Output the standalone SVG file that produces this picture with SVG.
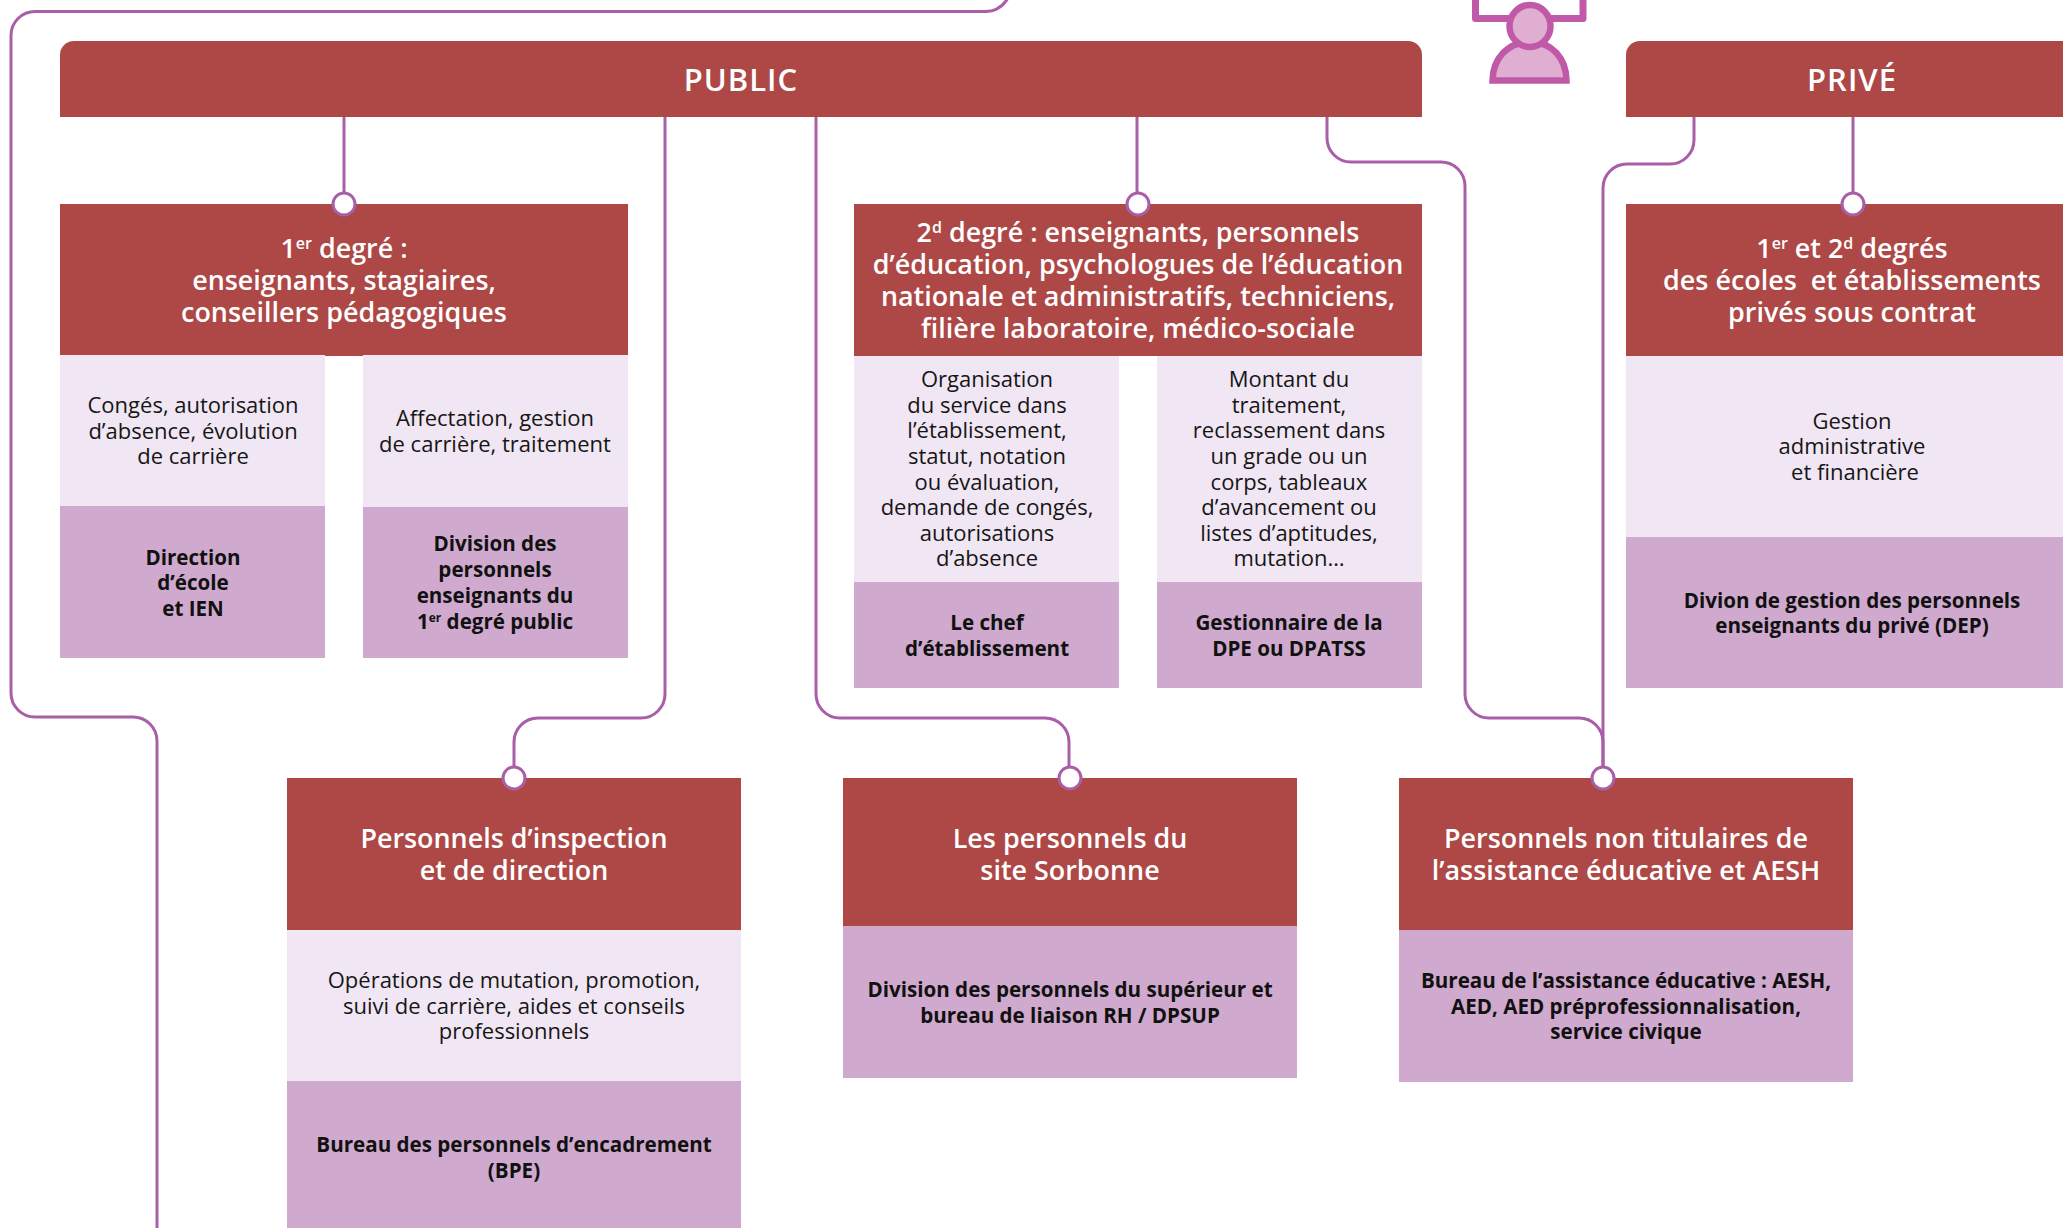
<svg xmlns="http://www.w3.org/2000/svg" width="2063" height="1228" viewBox="0 0 2063 1228">
<style>
text{font-family:"Open Sans","Noto Sans","Liberation Sans",sans-serif;text-anchor:middle}
.r{fill:#ad4846}.l{fill:#f1e6f3}.d{fill:#d0a9ce}
.h{fill:#fff;font-size:26.9px;font-weight:600}
.t{fill:#fff;font-size:31px;font-weight:600;letter-spacing:1px}
.b{fill:#161616;font-size:22px;font-weight:400}
.s{fill:#111;font-size:20.6px;font-weight:700}
.c{fill:none;stroke:#a95ea8;stroke-width:3}
.p{fill:#fff;stroke:#a95ea8;stroke-width:3}
.u{font-size:16px}
.i{fill:#e0aed0;stroke:#c05aa8;stroke-width:6.5}
</style>
<rect width="2063" height="1228" fill="#fff"/>
<g id="connectors">
<path class="c" d="M1008,-2Q1000,11.5 985,11.5H35A24,24 0 0 0 11,35.500V693A24,24 0 0 0 35,717H133A24,24 0 0 1 157,741V1228"/>
<path class="c" d="M344,117V192"/>
<path class="c" d="M665,117V694A24,24 0 0 1 641,718H538A24,24 0 0 0 514,742V766"/>
<path class="c" d="M816,117V694A24,24 0 0 0 840,718H1045A24,24 0 0 1 1069,742V766"/>
<path class="c" d="M1137,117V192"/>
<path class="c" d="M1327,117V138A24,24 0 0 0 1351,162H1441A24,24 0 0 1 1465,186V694A24,24 0 0 0 1489,718H1579A24,24 0 0 1 1603,742V766"/>
<path class="c" d="M1694,117V140A24,24 0 0 1 1670,164H1627A24,24 0 0 0 1603,188V766"/>
<path class="c" d="M1853,117V192"/>
</g>
<g id="icon-person">
<path d="M1475.500,-4V18.500H1583V-4" fill="none" stroke="#c05aa8" stroke-width="7" stroke-linejoin="round"/>
<path class="i" d="M1492.500,80.500C1493,58 1508,42 1530,42C1552,42 1566,58 1566.500,80.500Z"/>
<ellipse class="i" cx="1530" cy="26" rx="20.500" ry="21"/>
</g>
<g id="node-public">
<path class="r" d="M60,117V55A14,14 0 0 1 74,41H1408A14,14 0 0 1 1422,55V117Z"/>
<text class="t" x="741" y="91">PUBLIC</text>
</g>
<g id="node-prive">
<path class="r" d="M1626,117V55A14,14 0 0 1 1640,41H2063V117Z"/>
<text class="t" x="1852" y="91">PRIVÉ</text>
</g>
<g id="node-premier-degre">
<rect class="r" x="60" y="204" width="568" height="152"/>
<text class="h" x="344" y="258">1<tspan class="u" dy="-9">er</tspan><tspan dy="9"> degré :</tspan></text>
<text class="h" x="344" y="290">enseignants, stagiaires,</text>
<text class="h" x="344" y="322">conseillers pédagogiques</text>
<rect class="l" x="60" y="355" width="265" height="151"/>
<text class="b" x="193" y="413">Congés, autorisation</text>
<text class="b" x="193" y="439">d’absence, évolution</text>
<text class="b" x="193" y="464">de carrière</text>
<rect class="d" x="60" y="506" width="265" height="152"/>
<text class="s" x="193" y="565">Direction</text>
<text class="s" x="193" y="590">d’école</text>
<text class="s" x="193" y="616">et IEN</text>
<rect class="l" x="363" y="355" width="265" height="152"/>
<text class="b" x="495" y="426">Affectation, gestion</text>
<text class="b" x="495" y="452">de carrière, traitement</text>
<rect class="d" x="363" y="507" width="265" height="151"/>
<text class="s" x="495" y="551">Division des</text>
<text class="s" x="495" y="577">personnels</text>
<text class="s" x="495" y="603">enseignants du</text>
<text class="s" x="495" y="629">1<tspan font-size="12" dy="-7">er</tspan><tspan dy="7"> degré public</tspan></text>
</g>
<g id="node-second-degre">
<rect class="r" x="854" y="204" width="568" height="152"/>
<text class="h" x="1138" y="242">2<tspan class="u" dy="-9">d</tspan><tspan dy="9"> degré : enseignants, personnels</tspan></text>
<text class="h" x="1138" y="274">d’éducation, psychologues de l’éducation</text>
<text class="h" x="1138" y="306">nationale et administratifs, techniciens,</text>
<text class="h" x="1138" y="338">filière laboratoire, médico-sociale</text>
<rect class="l" x="854" y="356" width="265" height="226"/>
<text class="b" x="987" y="387">Organisation</text>
<text class="b" x="987" y="413">du service dans</text>
<text class="b" x="987" y="438">l’établissement,</text>
<text class="b" x="987" y="464">statut, notation</text>
<text class="b" x="987" y="490">ou évaluation,</text>
<text class="b" x="987" y="515">demande de congés,</text>
<text class="b" x="987" y="541">autorisations</text>
<text class="b" x="987" y="566">d’absence</text>
<rect class="d" x="854" y="582" width="265" height="106"/>
<text class="s" x="987" y="630">Le chef</text>
<text class="s" x="987" y="656">d’établissement</text>
<rect class="l" x="1157" y="356" width="265" height="226"/>
<text class="b" x="1289" y="387">Montant du</text>
<text class="b" x="1289" y="413">traitement,</text>
<text class="b" x="1289" y="438">reclassement dans</text>
<text class="b" x="1289" y="464">un grade ou un</text>
<text class="b" x="1289" y="490">corps, tableaux</text>
<text class="b" x="1289" y="515">d’avancement ou</text>
<text class="b" x="1289" y="541">listes d’aptitudes,</text>
<text class="b" x="1289" y="566">mutation…</text>
<rect class="d" x="1157" y="582" width="265" height="106"/>
<text class="s" x="1289" y="630">Gestionnaire de la</text>
<text class="s" x="1289" y="656">DPE ou DPATSS</text>
</g>
<g id="node-prive-degres">
<rect class="r" x="1626" y="204" width="437" height="152"/>
<text class="h" x="1852" y="258">1<tspan class="u" dy="-9">er</tspan><tspan dy="9"> et 2</tspan><tspan class="u" dy="-9">d</tspan><tspan dy="9"> degrés</tspan></text>
<text class="h" x="1852" y="290" xml:space="preserve">des écoles  et établissements</text>
<text class="h" x="1852" y="322">privés sous contrat</text>
<rect class="l" x="1626" y="356" width="437" height="181"/>
<text class="b" x="1852" y="429">Gestion</text>
<text class="b" x="1852" y="454">administrative</text>
<text class="b" x="1855" y="480">et financière</text>
<rect class="d" x="1626" y="537" width="437" height="151"/>
<text class="s" x="1852" y="608">Divion de gestion des personnels</text>
<text class="s" x="1852" y="633">enseignants du privé (DEP)</text>
</g>
<g id="node-inspection">
<rect class="r" x="287" y="778" width="454" height="152"/>
<text class="h" x="514" y="848">Personnels d’inspection</text>
<text class="h" x="514" y="880">et de direction</text>
<rect class="l" x="287" y="930" width="454" height="151"/>
<text class="b" x="514" y="988">Opérations de mutation, promotion,</text>
<text class="b" x="514" y="1014">suivi de carrière, aides et conseils</text>
<text class="b" x="514" y="1039">professionnels</text>
<rect class="d" x="287" y="1081" width="454" height="147"/>
<text class="s" x="514" y="1152">Bureau des personnels d’encadrement</text>
<text class="s" x="514" y="1178">(BPE)</text>
</g>
<g id="node-sorbonne">
<rect class="r" x="843" y="778" width="454" height="148"/>
<text class="h" x="1070" y="848">Les personnels du</text>
<text class="h" x="1070" y="880">site Sorbonne</text>
<rect class="d" x="843" y="926" width="454" height="152"/>
<text class="s" x="1070" y="997">Division des personnels du supérieur et</text>
<text class="s" x="1070" y="1023">bureau de liaison RH / DPSUP</text>
</g>
<g id="node-non-titulaires">
<rect class="r" x="1399" y="778" width="454" height="152"/>
<text class="h" x="1626" y="848">Personnels non titulaires de</text>
<text class="h" x="1626" y="880">l’assistance éducative et AESH</text>
<rect class="d" x="1399" y="930" width="454" height="152"/>
<text class="s" x="1626" y="988">Bureau de l’assistance éducative : AESH,</text>
<text class="s" x="1626" y="1014">AED, AED préprofessionnalisation,</text>
<text class="s" x="1626" y="1039">service civique</text>
</g>
<g id="ports">
<circle class="p" cx="344" cy="204" r="11"/>
<circle class="p" cx="1138" cy="204" r="11"/>
<circle class="p" cx="1853" cy="204" r="11"/>
<circle class="p" cx="514" cy="778" r="11"/>
<circle class="p" cx="1070" cy="778" r="11"/>
<circle class="p" cx="1603" cy="778" r="11"/>
</g>
</svg>
